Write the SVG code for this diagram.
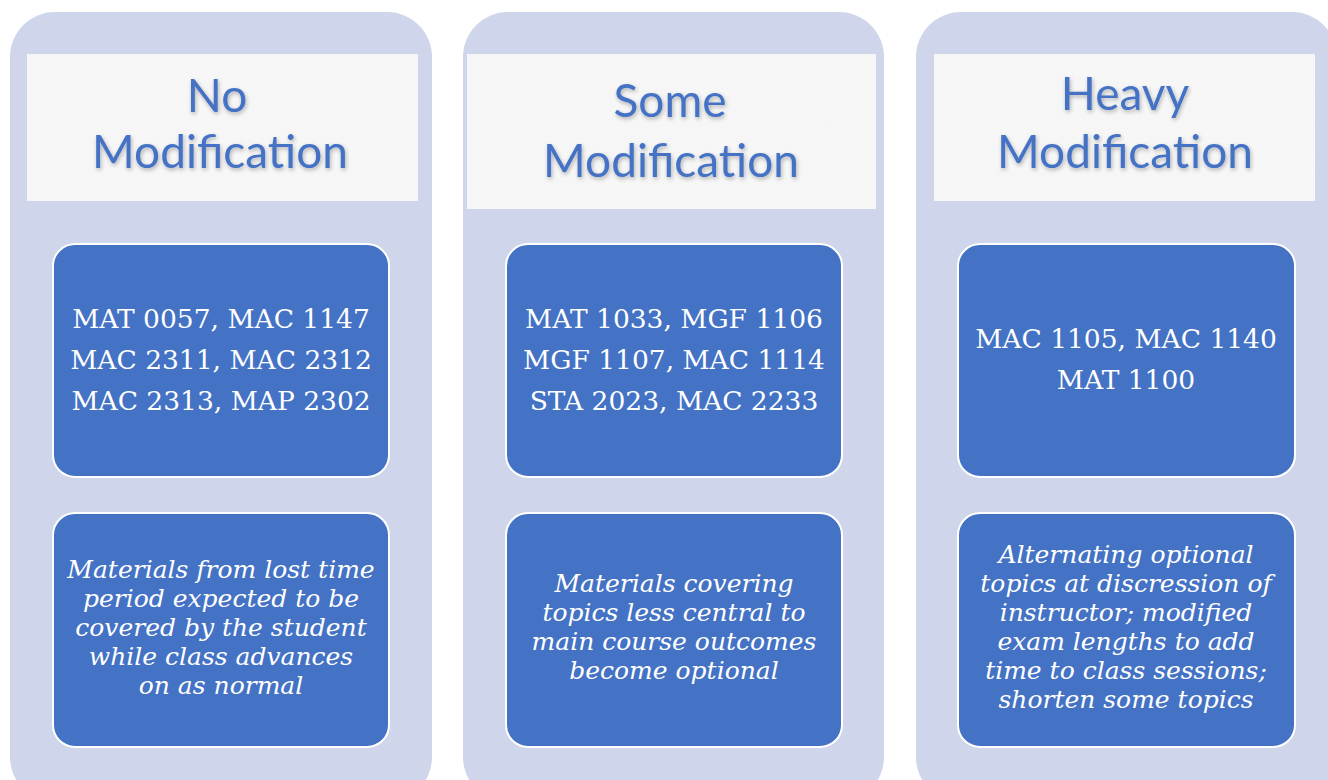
<svg xmlns="http://www.w3.org/2000/svg" width="1328" height="780" viewBox="0 0 1328 780">
<defs>
<filter id="tshadow" x="-10%" y="-20%" width="120%" height="150%">
<feGaussianBlur in="SourceAlpha" stdDeviation="2"/>
<feOffset dx="1" dy="2" result="b"/>
<feComponentTransfer><feFuncA type="linear" slope="0.3"/></feComponentTransfer>
<feMerge><feMergeNode/><feMergeNode in="SourceGraphic"/></feMerge>
</filter>
<filter id="noise" x="0" y="0" width="100%" height="100%">
<feTurbulence type="fractalNoise" baseFrequency="0.9" numOctaves="2" seed="3" result="n"/>
<feColorMatrix in="n" type="matrix" values="0 0 0 0 0.5  0 0 0 0 0.5  0 0 0 0 0.5  0 0 0 0.1 0" result="g"/>
<feComposite in="g" in2="SourceGraphic" operator="in" result="gi"/>
<feMerge><feMergeNode in="SourceGraphic"/><feMergeNode in="gi"/></feMerge>
</filter>
</defs>
<style>
.col{fill:#CFD5EA;}
.hdr{fill:#F9F9F9;}
.box{fill:#4472C4;stroke:#FFFFFF;stroke-width:2;}
.ht{font-family:Lato,"Open Sans","Liberation Sans",sans-serif;font-size:46px;fill:#4472C4;text-anchor:middle;}
.ct{font-family:"DejaVu Serif","Liberation Serif",serif;font-size:26.5px;fill:#FFFFFF;text-anchor:middle;}
.it{font-family:"DejaVu Serif","Liberation Serif",serif;font-style:italic;font-size:25px;fill:#FFFFFF;text-anchor:middle;}
</style>
<rect width="1328" height="780" fill="#FFFFFF"/>

<g id="col-no">
<rect class="col" x="10" y="12" width="422" height="790" rx="45"/>
<rect class="hdr" x="27" y="54" width="391" height="147" filter="url(#noise)"/>
<g filter="url(#tshadow)">
<text class="ht" x="217" y="112">No</text>
<text class="ht" x="220" y="168">Modification</text>
</g>
</g>
<g id="no-courses">
<rect class="box" x="53" y="244" width="336" height="233" rx="22"/>
<text class="ct" x="221" y="328">MAT 0057, MAC 1147</text>
<text class="ct" x="221" y="369">MAC 2311, MAC 2312</text>
<text class="ct" x="221" y="410">MAC 2313, MAP 2302</text>
</g>
<g id="no-desc">
<rect class="box" x="53" y="513" width="336" height="234" rx="22"/>
<text class="it" x="221" y="578">Materials from lost time</text>
<text class="it" x="221" y="607">period expected to be</text>
<text class="it" x="221" y="636">covered by the student</text>
<text class="it" x="221" y="665">while class advances</text>
<text class="it" x="221" y="694">on as normal</text>
</g>

<g id="col-some">
<rect class="col" x="463" y="12" width="421" height="790" rx="45"/>
<rect class="hdr" x="467" y="54" width="409" height="155" filter="url(#noise)"/>
<g filter="url(#tshadow)">
<text class="ht" x="670" y="117">Some</text>
<text class="ht" x="671" y="177">Modification</text>
</g>
</g>
<g id="some-courses">
<rect class="box" x="506" y="244" width="336" height="233" rx="22"/>
<text class="ct" x="674" y="328">MAT 1033, MGF 1106</text>
<text class="ct" x="674" y="369">MGF 1107, MAC 1114</text>
<text class="ct" x="674" y="410">STA 2023, MAC 2233</text>
</g>
<g id="some-desc">
<rect class="box" x="506" y="513" width="336" height="234" rx="22"/>
<text class="it" x="674" y="592">Materials covering</text>
<text class="it" x="674" y="621">topics less central to</text>
<text class="it" x="674" y="650">main course outcomes</text>
<text class="it" x="674" y="679">become optional</text>
</g>

<g id="col-heavy">
<rect class="col" x="916" y="12" width="421" height="790" rx="45"/>
<rect class="hdr" x="934" y="54" width="381" height="147" filter="url(#noise)"/>
<g filter="url(#tshadow)">
<text class="ht" x="1125" y="110">Heavy</text>
<text class="ht" x="1125" y="168">Modification</text>
</g>
</g>
<g id="heavy-courses">
<rect class="box" x="958" y="244" width="337" height="233" rx="22"/>
<text class="ct" x="1126" y="348">MAC 1105, MAC 1140</text>
<text class="ct" x="1126" y="389">MAT 1100</text>
</g>
<g id="heavy-desc">
<rect class="box" x="958" y="513" width="337" height="234" rx="22"/>
<text class="it" x="1126" y="563">Alternating optional</text>
<text class="it" x="1126" y="592">topics at discression of</text>
<text class="it" x="1126" y="621">instructor; modified</text>
<text class="it" x="1126" y="650">exam lengths to add</text>
<text class="it" x="1126" y="679">time to class sessions;</text>
<text class="it" x="1126" y="708">shorten some topics</text>
</g>

<g id="connectors"></g>
</svg>
